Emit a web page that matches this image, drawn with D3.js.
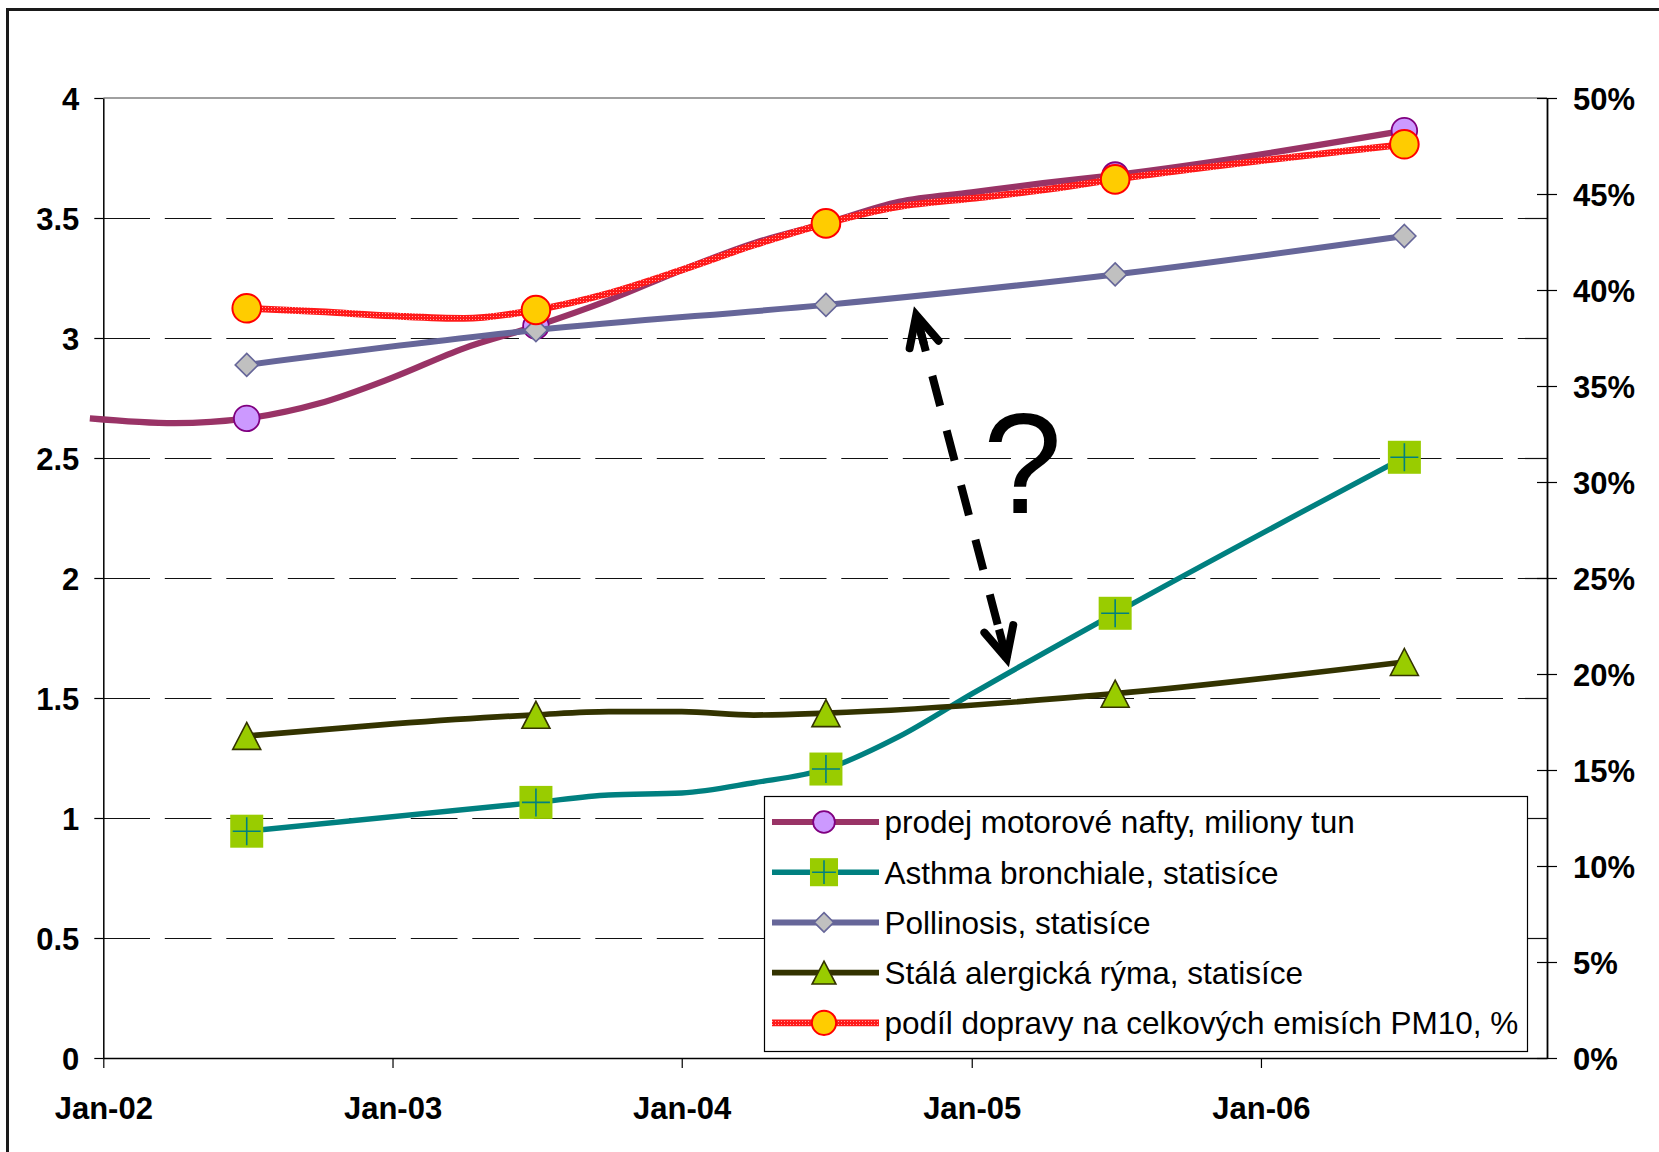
<!DOCTYPE html>
<html>
<head>
<meta charset="utf-8">
<script src="https://cdn.jsdelivr.net/npm/d3@7"></script>
<style>
  html, body { margin: 0; padding: 0; background: #fff; overflow: hidden; }
  svg { display: block; }
  text { font-family: "Liberation Sans", Arial, sans-serif; }
</style>
</head>
<body>
<svg id="chart" width="1659" height="1152"></svg>
<script>
// ---- data -------------------------------------------------------------
const yearTicks   = ["2002-01-01", "2003-01-01", "2004-01-01", "2005-01-01", "2006-01-01"];
const markerDates = ["2002-07-01", "2003-07-01", "2004-07-01", "2005-07-01", "2006-07-01"];
const leftTicks   = [0, 0.5, 1, 1.5, 2, 2.5, 3, 3.5, 4];
const rightTicks  = [0, 5, 10, 15, 20, 25, 30, 35, 40, 45, 50];

// prodej motorové nafty, miliony tun
const naftaDates  = ["2001-12-15", "2002-04-01", "2002-07-01", "2002-10-01", "2003-01-01", "2003-04-01",
                     "2003-07-01", "2003-10-01", "2004-01-01", "2004-04-01", "2004-07-01", "2004-10-01",
                     "2005-01-01", "2005-04-01", "2005-07-01", "2006-07-01"];
const naftaValues = [2.665, 2.645, 2.665, 2.728, 2.835, 2.957,
                     3.05, 3.158, 3.283, 3.395, 3.478, 3.568,
                     3.607, 3.645, 3.679, 3.864];

// Asthma bronchiale, statisíce
const asthmaDates  = ["2002-07-01", "2003-07-01", "2003-10-01", "2004-01-01", "2004-04-01", "2004-07-01",
                      "2004-10-01", "2005-01-01", "2005-07-01", "2006-07-01"];
const asthmaValues = [0.945, 1.065, 1.096, 1.104, 1.147, 1.204,
                      1.339, 1.517, 1.853, 2.503];

// Pollinosis, statisíce
const pollDates  = ["2002-07-01", "2003-07-01", "2004-07-01", "2005-07-01", "2006-07-01"];
const pollValues = [2.888, 3.033, 3.138, 3.265, 3.425];

// Stálá alergická rýma, statisíce
const rymaDates  = ["2002-07-01", "2003-01-01", "2003-07-01", "2003-10-01", "2004-01-01", "2004-04-01",
                    "2004-07-01", "2005-07-01", "2006-07-01"];
const rymaValues = [1.342, 1.392, 1.430, 1.443, 1.443, 1.429,
                    1.437, 1.518, 1.650];

// podíl dopravy na celkových emisích PM10, % (right axis)
const pmDates  = ["2002-07-01", "2002-10-01", "2003-01-01", "2003-04-01", "2003-07-01", "2003-10-01",
                  "2004-01-01", "2004-04-01", "2004-07-01", "2004-10-01", "2005-01-01", "2005-04-01",
                  "2005-07-01", "2006-07-01"];
const pmValues = [39.05, 38.87, 38.65, 38.52, 38.96, 39.83,
                  41.04, 42.34, 43.47, 44.34, 44.77, 45.21,
                  45.76, 47.59];

const seriesNames = [
  "prodej motorové nafty, miliony tun",
  "Asthma bronchiale, statisíce",
  "Pollinosis, statisíce",
  "Stálá alergická rýma, statisíce",
  "podíl dopravy na celkových emisích PM10, %"
];

// annotation anchors (date, left-axis value)
const arrowFrom   = { date: "2004-10-23", value: 3.096 };
const arrowTo     = { date: "2005-02-14", value: 1.665 };
const questionAt  = { date: "2005-03-06", value: 2.27 };

// ---- setup ------------------------------------------------------------
const parse = d3.utcParse("%Y-%m-%d");
const svg = d3.select("#chart");

const plotLeft = 103.3, plotRight = 1547, plotTop = 98, plotBottom = 1058;

const x = d3.scaleUtc()
  .domain([parse("2002-01-01"), parse("2006-12-28")])
  .range([plotLeft, plotRight]);
const yL = d3.scaleLinear().domain([0, 4]).range([plotBottom, plotTop]);
const yR = d3.scaleLinear().domain([0, 50]).range([plotBottom, plotTop]);

const defs = svg.append("defs");
const pat = defs.append("pattern")
  .attr("id", "redTex").attr("patternUnits", "userSpaceOnUse")
  .attr("width", 3).attr("height", 3);
pat.append("rect").attr("width", 3).attr("height", 3).attr("fill", "#FF1A1A");
pat.append("rect").attr("x", 1).attr("y", 1).attr("width", 1).attr("height", 1).attr("fill", "#FFA0A0");

// outer frame (runs off the right and bottom edge)
svg.append("rect")
  .attr("x", 7.5).attr("y", 9.5).attr("width", 1700).attr("height", 1200)
  .attr("fill", "none").attr("stroke", "#1a1a1a").attr("stroke-width", 3);

// ---- gridlines --------------------------------------------------------
const grid = svg.append("g");
grid.selectAll("line.g")
  .data(leftTicks.filter(v => v > 0 && v < 4))
  .join("line")
  .attr("x1", plotLeft).attr("x2", plotRight)
  .attr("y1", d => Math.round(yL(d)) + 0.5).attr("y2", d => Math.round(yL(d)) + 0.5)
  .attr("stroke", "#111").attr("stroke-width", 1.2)
  .attr("stroke-dasharray", "46.7,14.8");
grid.append("line")
  .attr("x1", plotLeft).attr("x2", plotRight)
  .attr("y1", yL(4)).attr("y2", yL(4))
  .attr("stroke", "#808080").attr("stroke-width", 1.5);

// ---- axes -------------------------------------------------------------
const axisFont = g => g.selectAll("text")
  .attr("font-size", 31).attr("font-weight", "bold").attr("fill", "#000")
  .attr("font-family", "'Liberation Sans', Arial, sans-serif");

const gL = svg.append("g").attr("transform", `translate(${plotLeft},0)`)
  .call(d3.axisLeft(yL).tickValues(leftTicks).tickSize(9).tickSizeOuter(0).tickPadding(15)
        .tickFormat(d3.format("")));
gL.call(axisFont);
gL.select(".domain").attr("stroke", "#000").attr("stroke-width", 1.5);
gL.selectAll(".tick line").attr("stroke", "#000").attr("stroke-width", 1.2);
gL.selectAll("text").attr("dy", "0.36em");

const gR = svg.append("g").attr("transform", `translate(${plotRight},0)`)
  .call(d3.axisRight(yR).tickValues(rightTicks).tickSize(10).tickSizeOuter(0).tickPadding(16)
        .tickFormat(d => d + "%"));
gR.call(axisFont);
gR.select(".domain").attr("stroke", "#000").attr("stroke-width", 1.8);
gR.selectAll(".tick line").attr("x1", -10).attr("stroke", "#000").attr("stroke-width", 1.2);
gR.selectAll("text").attr("dy", "0.36em");

const gX = svg.append("g").attr("transform", `translate(0,${plotBottom})`)
  .call(d3.axisBottom(x).tickValues(yearTicks.map(parse)).tickSize(10).tickSizeOuter(0)
        .tickFormat(d3.utcFormat("%b-%y")));
gX.call(axisFont);
gX.select(".domain").attr("stroke", "#000").attr("stroke-width", 1.5);
gX.selectAll(".tick line").attr("stroke", "#000").attr("stroke-width", 1.2);
gX.selectAll("text").attr("y", 61).attr("dy", 0);

// ---- markers ----------------------------------------------------------
function drawMarker(g, kind, s) {
  if (kind === "nafta") {
    g.append("circle").attr("r", 12.8 * s)
      .attr("fill", "#CC99FF").attr("stroke", "#800080").attr("stroke-width", 1.8);
  } else if (kind === "asthma") {
    const h = 16.5 * s, p = 14 * s;
    g.append("rect").attr("x", -h).attr("y", -h).attr("width", 2 * h).attr("height", 2 * h)
      .attr("fill", "#99CC00");
    g.append("path").attr("d", `M${-p},0H${p}M0,${-p}V${p}`)
      .attr("stroke", "#008080").attr("stroke-width", 1.6).attr("fill", "none");
  } else if (kind === "poll") {
    const h = 11.5 * s;
    g.append("path").attr("d", `M0,${-h}L${h},0L0,${h}L${-h},0Z`)
      .attr("fill", "#C0C0C0").attr("stroke", "#666699").attr("stroke-width", 1.6);
  } else if (kind === "ryma") {
    const w = 14 * s, hh = 13.5 * s;
    g.append("path").attr("d", `M0,${-hh}L${w},${hh}L${-w},${hh}Z`)
      .attr("fill", "#99CC00").attr("stroke", "#333300").attr("stroke-width", 1.6)
      .attr("stroke-linejoin", "miter");
  } else if (kind === "pm") {
    g.append("circle").attr("r", 14.3 * s)
      .attr("fill", "#FFCC00").attr("stroke", "#FF0000").attr("stroke-width", 2);
  }
}

const series = [
  { kind: "nafta",  dates: naftaDates,  values: naftaValues,  y: yL, stroke: "#993366",        width: 6.2 },
  { kind: "asthma", dates: asthmaDates, values: asthmaValues, y: yL, stroke: "#008080",        width: 5.4 },
  { kind: "poll",   dates: pollDates,   values: pollValues,   y: yL, stroke: "#666699",        width: 6 },
  { kind: "ryma",   dates: rymaDates,   values: rymaValues,   y: yL, stroke: "#333300",        width: 5.7 },
  { kind: "pm",     dates: pmDates,     values: pmValues,     y: yR, stroke: "url(#redTex)",   width: 6.8 }
];

const plot = svg.append("g");
series.forEach(s => {
  const pts = s.dates.map((d, i) => ({ date: parse(d), value: s.values[i], key: d }));
  const line = d3.line().x(d => x(d.date)).y(d => s.y(d.value)).curve(d3.curveMonotoneX);
  plot.append("path").datum(pts)
    .attr("d", line).attr("fill", "none")
    .attr("stroke", s.stroke).attr("stroke-width", s.width)
    .attr("stroke-linejoin", "round").attr("stroke-linecap", "butt");
  const marks = pts.filter(p => markerDates.includes(p.key));
  plot.selectAll(null).data(marks).join("g")
    .attr("transform", d => `translate(${x(d.date)},${s.y(d.value)})`)
    .each(function () { drawMarker(d3.select(this), s.kind, 1); });
});

// ---- legend -----------------------------------------------------------
const legend = svg.append("g");
legend.append("rect")
  .attr("x", 764.5).attr("y", 796.5).attr("width", 763).attr("height", 255)
  .attr("fill", "#fff").attr("stroke", "#000").attr("stroke-width", 1.2);
series.forEach((s, i) => {
  const cy = 822 + i * 50.2;
  legend.append("line").attr("x1", 772).attr("x2", 879).attr("y1", cy).attr("y2", cy)
    .attr("stroke", s.stroke).attr("stroke-width", s.width);
  drawMarker(legend.append("g").attr("transform", `translate(824,${cy})`), s.kind, 0.85);
  legend.append("text").attr("x", 884.5).attr("y", cy).attr("dy", "0.36em")
    .attr("font-size", 31.5).attr("fill", "#000").text(seriesNames[i]);
});

// ---- annotation: dashed double arrow and question mark -----------------
const ann = svg.append("g");
const ax1 = x(parse(arrowFrom.date)), ay1 = yL(arrowFrom.value);
const ax2 = x(parse(arrowTo.date)),   ay2 = yL(arrowTo.value);
ann.append("line")
  .attr("x1", ax1).attr("y1", ay1).attr("x2", ax2).attr("y2", ay2)
  .attr("stroke", "#000").attr("stroke-width", 8)
  .attr("stroke-dasharray", "31,25.5").attr("stroke-dashoffset", 50);
function head(tx, ty, fx, fy) {
  const ang = Math.atan2(fy - ty, fx - tx), len = 34, spread = 26 * Math.PI / 180;
  const p1 = [tx + len * Math.cos(ang - spread), ty + len * Math.sin(ang - spread)];
  const p2 = [tx + len * Math.cos(ang + spread), ty + len * Math.sin(ang + spread)];
  ann.append("path")
    .attr("d", `M${p1[0]},${p1[1]}L${tx},${ty}L${p2[0]},${p2[1]}`)
    .attr("fill", "none").attr("stroke", "#000").attr("stroke-width", 8)
    .attr("stroke-linecap", "round").attr("stroke-linejoin", "miter");
  ann.append("line")
    .attr("x1", tx).attr("y1", ty)
    .attr("x2", tx + 30 * Math.cos(ang)).attr("y2", ty + 30 * Math.sin(ang))
    .attr("stroke", "#000").attr("stroke-width", 8);
}
head(ax1, ay1, ax2, ay2);
head(ax2, ay2, ax1, ay1);

ann.append("text")
  .attr("x", x(parse(questionAt.date))).attr("y", yL(questionAt.value))
  .attr("text-anchor", "middle").attr("font-size", 142).attr("fill", "#000")
  .text("?");
</script>
</body>
</html>
